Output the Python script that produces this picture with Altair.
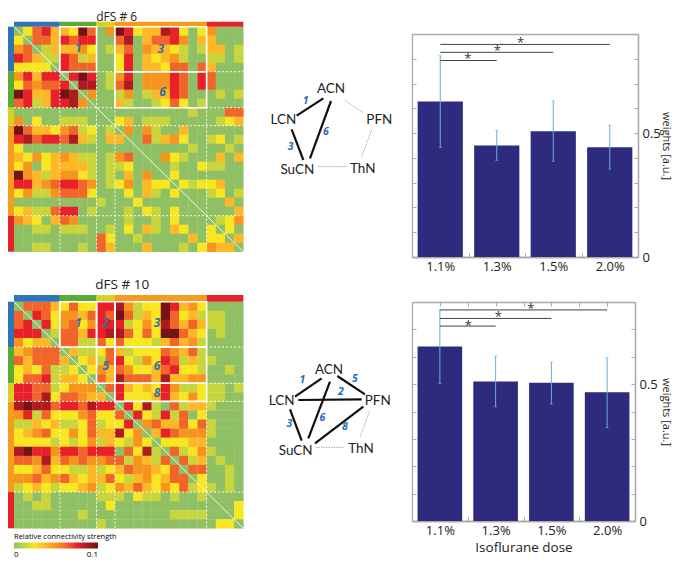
import json
import altair as alt
import pandas as pd

FONT = "Open Sans"
# Connectivity levels (each digit is a level on the 0..0.1 colour scale)
M1 = """02563 3285 04 8623376202 4000
20553 6566 00 5703556403 3000
45013 3342 01 3504332101 3301
65311 6513 00 2603234100 1101
22220 6555 00 2603325505 3000
46366 0686 01 4604446506 5000
25455 6077 01 5704446506 5000
86336 8704 00 1401336500 0101
56136 6740 00 3100125201 0000
00000 0000 00 0000000010 0055
40200 1110 00 2301110000 0123
85332 4512 01 0404100300 0000
67566 5731 03 3005134200 1201
20000 0000 00 0000000010 0010
32423 4311 01 4500042100 0303
24023 3331 01 1200001002 1100
84313 4421 01 0304002000 0000
66345 6654 01 2403220212 2300
24114 5552 00 0203102000 1201
00000 0000 10 0020000000 0030
23115 6601 00 0102102000 0003
43203 5400 00 0100102000 0124
00110 1110 01 0203103200 2020
00000 0000 52 0010000030 2203
00110 0010 53 0003000102 4330"""
M2 = """05553 2522 66 7412286342 0000
50652 4435 65 8513285231 1100
56062 4524 66 6124275353 1100
66601 5536 67 7525288532 0100
42330 5511 52 5222135341 0000
34555 0311 25 3122254351 0000
53555 3023 15 6214265131 1000
23251 1202 43 5422356221 0010
25561 3320 53 7555373344 0000
66551 2444 05 6323264112 1101
66572 5543 30 6222363242 1100
78775 6657 66 0627105133 1000
46152 2245 22 5062161502 0000
11323 1125 12 2604533525 1000
23452 2425 33 7240365444 1000
22221 2124 13 2142022233 0000
78664 6656 66 0527105124 1000
55473 5454 45 5143150513 0100
22352 2113 12 3544325055 0010
44534 5323 35 2134235502 0010
12321 2234 12 4353242512 1010
01010 0000 11 1021101001 0000
00110 0000 02 0000000000 0002
00000 0010 00 0000001111 0002
00000 0000 10 0000000000 0220"""
LEVEL = 0.0125
BLOCKS = [0, 5, 9, 11, 21, 25]
BLOCK_COLORS = ["#2f74b5", "#5aaa36", "#dccf23", "#f59c1f", "#e5232a"]
COLOR_RANGE = ["#8fc064", "#c9d53c", "#f8e621", "#fdb827", "#f7941e",
               "#f1652a", "#e7202a", "#ad1a1f", "#741214"]

DOSES = ["1.1%", "1.3%", "1.5%", "2.0%"]
W1 = [0.628, 0.45, 0.508, 0.443]
L1 = [0.442, 0.39, 0.386, 0.355]
H1 = [0.812, 0.511, 0.63, 0.532]
W2 = [0.637, 0.51, 0.505, 0.47]
L2 = [0.502, 0.417, 0.427, 0.341]
H2 = [0.771, 0.602, 0.58, 0.596]
SIG_ENDS = [2, 3, 4]
SIG1 = [0.793, 0.826, 0.858]
SIG2 = [0.712, 0.74, 0.771]
STAR_X1 = [1.49, 2.01, 2.42]
STAR_Y1 = [0.806, 0.838, 0.873]
STAR_X2 = [1.51, 2.05, 2.63]
STAR_Y2 = [0.72, 0.752, 0.783]

OFF = 8  # page margin


def px(a, b):
    return [a - OFF, b - OFF]


def qs(dom, rng):
    return alt.Scale(domain=dom, range=rng, nice=False, zero=False)


NOAX = dict(axis=None)


def heat_panel(matrix, hx, hy, title, title_xy, top_h, left_w, solid, labels, title_size=13.5):
    sx = qs([0, 25], px(*hx))
    sy = qs([0, 25], px(*hy))

    def X(f):
        return alt.X(f, type="quantitative", scale=sx, **NOAX)

    def Y(f):
        return alt.Y(f, type="quantitative", scale=sy, **NOAX)

    rows = [r.replace(" ", "") for r in matrix.split("\n")]
    assert all(len(r) == 25 for r in rows) and len(rows) == 25
    cells = pd.DataFrame([
        dict(x=c, x2=c + 1.03, y=r, y2=r + 1.03, v=int(ch) * LEVEL)
        for r, row in enumerate(rows) for c, ch in enumerate(row)
    ])
    color = alt.Color(
        "v:Q",
        scale=alt.Scale(domain=[0, 0.1], range=COLOR_RANGE),
        legend=alt.Legend(
            orient="none", direction="horizontal", legendX=6, legendY=525,
            title="Relative connectivity strength", titleFontSize=7.5,
            titleFont=FONT, titleFontWeight="normal", titlePadding=2,
            labelFont=FONT, labelFontSize=8, values=[0, 0.1], format="~g",
            gradientLength=84, gradientThickness=6, titleLimit=200),
    )
    out = [alt.Chart(cells).mark_rect().encode(
        x=X("x"), x2="x2", y=Y("y"), y2="y2", color=color)]

    strips = []
    for i, c in enumerate(BLOCK_COLORS):
        a, b = BLOCKS[i], BLOCKS[i + 1]
        strips.append(dict(x=a, x2=b, y=-top_h, y2=0, c=c))
        strips.append(dict(x=-left_w, x2=0, y=a, y2=b, c=c))
    out.append(alt.Chart(pd.DataFrame(strips)).mark_rect().encode(
        x=X("x"), x2="x2", y=Y("y"), y2="y2",
        fill=alt.Fill("c:N", scale=None)))

    inner = BLOCKS[1:-1]
    vd = pd.DataFrame(dict(x=inner, y=[0] * 4, y2=[25] * 4))
    hd = pd.DataFrame(dict(y=inner, x=[0] * 4, x2=[25] * 4))
    dash = dict(color="white", strokeWidth=1, strokeDash=[2, 2], opacity=0.9)
    out.append(alt.Chart(vd).mark_rule(**dash).encode(x=X("x"), y=Y("y"), y2="y2"))
    out.append(alt.Chart(hd).mark_rule(**dash).encode(y=Y("y"), x=X("x"), x2="x2"))
    diag = pd.DataFrame(dict(x=[0, 25], y=[0, 25]))
    out.append(alt.Chart(diag).mark_line(color="white", strokeWidth=1, opacity=0.85)
               .encode(x=X("x"), y=Y("y")))
    sd = pd.DataFrame(solid, columns=["x", "x2", "y", "y2"])
    out.append(alt.Chart(sd).mark_rect(fillOpacity=0, stroke="white", strokeWidth=1.6)
               .encode(x=X("x"), x2="x2", y=Y("y"), y2="y2"))
    ld = pd.DataFrame(labels, columns=["x", "y", "t"])
    out.append(alt.Chart(ld).mark_text(font=FONT, fontSize=12, fontStyle="italic",
                                       fontWeight="bold", color="#2f6ea3")
               .encode(x=X("x"), y=Y("y"), text="t:N"))
    td = pd.DataFrame([dict(x=title_xy[0], y=title_xy[1], t=title)])
    out.append(alt.Chart(td).mark_text(font=FONT, fontSize=title_size, color="#222",
                                       baseline="alphabetic")
               .encode(x=X("x"), y=Y("y"), text="t:N"))
    return out


def network_panel(ox, oy, w, h, thick, thin, nodes, labels):
    sx = qs([0, w], px(ox, ox + w / 3))
    sy = qs([0, h], px(oy, oy + h / 3))

    def X(f):
        return alt.X(f, type="quantitative", scale=sx, **NOAX)

    def Y(f):
        return alt.Y(f, type="quantitative", scale=sy, **NOAX)

    cols = ["x", "y", "x2", "y2"]
    out = []
    out.append(alt.Chart(pd.DataFrame(thin, columns=cols))
               .mark_rule(color="#aaa", strokeWidth=1, strokeDash=[1.5, 1])
               .encode(x=X("x"), y=Y("y"), x2="x2", y2="y2"))
    out.append(alt.Chart(pd.DataFrame(thick, columns=cols))
               .mark_rule(color="#111", strokeWidth=2.2)
               .encode(x=X("x"), y=Y("y"), x2="x2", y2="y2"))
    out.append(alt.Chart(pd.DataFrame(nodes, columns=["x", "y", "t"]))
               .mark_text(font="Lato", fontSize=13.5, color="#222")
               .encode(x=X("x"), y=Y("y"), text="t:N"))
    out.append(alt.Chart(pd.DataFrame(labels, columns=["x", "y", "t"]))
               .mark_text(font=FONT, fontSize=10.5, fontStyle="italic",
                          fontWeight="bold", color="#1f6fb2")
               .encode(x=X("x"), y=Y("y"), text="t:N"))
    return out


def bar_panel(xl, xr, yt, yb, ymax, vals, lo, hi, sig, sx_, sy_, top_ticks, width, height,
              xtitle=None, wt_pad=12):
    sx = qs([0.5, 4.5], px(xl, xr))
    sy = qs([0, ymax], px(yb, yt))
    xl0, xr0, yt0, yb0 = xl - OFF, xr - OFF, yt - OFF, yb - OFF
    yvals = [round(i * 0.1, 1) for i in range(int(round(ymax * 10)) + 1)]
    xvals = [0.5 + 0.5 * i for i in range(9)]
    lab = json.dumps(DOSES)
    grey = "#a9a9a9"
    bars = pd.DataFrame(dict(x=[i + 0.6 for i in range(4)],
                             x2=[i + 1.4 for i in range(4)],
                             v=vals, b=[0] * 4))
    base = dict(domainColor=grey, tickColor=grey, grid=False, domainWidth=1.3,
                tickWidth=1, tickSize=4, labelFont=FONT, titleFont=FONT)
    x_label_ax = alt.Axis(orient="bottom", offset=yb0 - height, values=[1, 2, 3, 4], tickSize=0,
                          labelExpr=f"{lab}[datum.value-1]", labelFontSize=13, labelColor="#222",
                          labelPadding=3, domainColor=grey, domainWidth=1.3, grid=False,
                          title=xtitle, titleFontSize=13.5, titleFontWeight="normal",
                          titleColor="#222", titlePadding=3, labelFont=FONT, titleFont=FONT)
    y_label_ax = alt.Axis(orient="right", offset=xr0 - width, values=[0, 0.5], tickSize=0,
                          labelFontSize=13, labelColor="#222", labelPadding=4, format="~g",
                          domainColor=grey, domainWidth=1.3, grid=False, title="weights [a.u.]",
                          titleFontSize=11, titleFontWeight="normal", titleColor="#222",
                          titlePadding=wt_pad, labelFont=FONT, titleFont=FONT)
    out = [alt.Chart(bars).mark_bar(color="#2e2a7e").encode(
        x=alt.X("x:Q", scale=sx, axis=x_label_ax), x2="x2",
        y=alt.Y("v:Q", scale=sy, axis=y_label_ax), y2="b")]

    stems = pd.DataFrame(dict(x=[1, 2, 3, 4], lo=lo, hi=hi))
    x_tick_ax = alt.Axis(orient="top", offset=-yb0, values=xvals, labels=False, title=None, **base)
    y_tick_ax = alt.Axis(orient="right", offset=xl0 - width, values=yvals, labels=False, title=None, **base)
    out.append(alt.Chart(stems).mark_rule(color="#6aaed6", strokeWidth=1).encode(
        x=alt.X("x:Q", scale=sx, axis=x_tick_ax),
        y=alt.Y("lo:Q", scale=sy, axis=y_tick_ax), y2="hi"))

    caps = pd.DataFrame(dict(x=[1, 2, 3, 4] * 2, y=list(lo) + list(hi)))
    x_top_ax = alt.Axis(orient="bottom", offset=yt0 - height,
                        values=xvals if top_ticks else [], labels=False, title=None, **base)
    y_right_ax = alt.Axis(orient="left", offset=-xr0, values=yvals, labels=False, title=None, **base)
    out.append(alt.Chart(caps).mark_tick(color="#6aaed6", size=3, thickness=1, orient="horizontal").encode(
        x=alt.X("x:Q", scale=sx, axis=x_top_ax),
        y=alt.Y("y:Q", scale=sy, axis=y_right_ax)))

    noax = dict(axis=None)
    sd = pd.DataFrame(dict(x=[1, 1, 1], x2=SIG_ENDS, y=sig))
    out.append(alt.Chart(sd).mark_rule(color="#444", strokeWidth=1).encode(
        x=alt.X("x:Q", scale=sx, **noax), x2="x2", y=alt.Y("y:Q", scale=sy, **noax)))
    st = pd.DataFrame(dict(x=sx_, y=sy_, t=["*", "*", "*"]))
    out.append(alt.Chart(st).mark_text(font=FONT, fontSize=13, color="#333", baseline="middle", dy=2).encode(
        x=alt.X("x:Q", scale=sx, **noax), y=alt.Y("y:Q", scale=sy, **noax), text="t:N"))
    return out


W, H = 669, 551
layers = []
layers += heat_panel(M1, (14, 243.3), (26.7, 251.7), "dFS # 6", (11.2, -0.62), 0.56, 0.92,
                     [(5, 9, 0, 5), (11, 21, 0, 5), (11, 21, 5, 9)],
                     [(7.0, 2.33, "1"), (16.0, 2.48, "3"), (16.2, 7.22, "6")], title_size=12)
layers += heat_panel(M2, (14, 243.3), (301.7, 528.3), "dFS # 10", (11.8, -1.4), 0.73, 0.98,
                     [(5, 9, 0, 5), (9, 11, 0, 5), (11, 21, 0, 5), (9, 11, 5, 9), (11, 21, 5, 9), (11, 21, 9, 11)],
                     [(7.0, 2.4, "1"), (10.0, 2.4, "2"), (15.6, 2.4, "3"), (10.0, 7.1, "5"),
                      (15.6, 7.1, "6"), (15.6, 10.1, "8")])
layers += network_panel(250, 70, 480, 390,
                        [(220, 85, 140, 137), (243, 93, 180, 265), (125, 178, 160, 270)],
                        [(285, 92, 340, 128), (365, 180, 335, 260), (205, 290, 290, 290)],
                        [(243, 58, "ACN"), (100, 150, "LCN"), (388, 150, "PFN"), (142, 300, "SuCN"), (338, 297, "ThN")],
                        [(167, 92, "1"), (228, 185, "6"), (122, 230, "3")])
layers += network_panel(250, 350, 540, 390,
                        [(215, 85, 135, 140), (240, 95, 175, 265), (120, 178, 155, 272),
                         (145, 150, 335, 148), (262, 78, 345, 133), (195, 280, 340, 170)],
                        [(358, 185, 330, 262), (198, 292, 282, 292)],
                        [(237, 60, "ACN"), (95, 152, "LCN"), (383, 152, "PFN"), (137, 302, "SuCN"), (333, 297, "ThN")],
                        [(157, 90, "1"), (315, 88, "5"), (273, 127, "2"), (217, 205, "6"), (118, 223, "3"), (285, 232, "8")])
layers += bar_panel(412, 638, 34, 257, 0.9, W1, L1, H1, SIG1, STAR_X1, STAR_Y1, False, W, H, wt_pad=0)
layers += bar_panel(412, 635, 302, 521, 0.8, W2, L2, H2, SIG2, STAR_X2, STAR_Y2, True, W, H,
                    xtitle="Isoflurane dose", wt_pad=3)

chart = alt.layer(*layers).resolve_scale(x="independent", y="independent").properties(
    width=W, height=H, padding=0,
    autosize=alt.AutoSizeParams(type="none"),
).configure_view(stroke=None)

chart.save("out.html", embed_options={"renderer": "svg", "actions": False})
